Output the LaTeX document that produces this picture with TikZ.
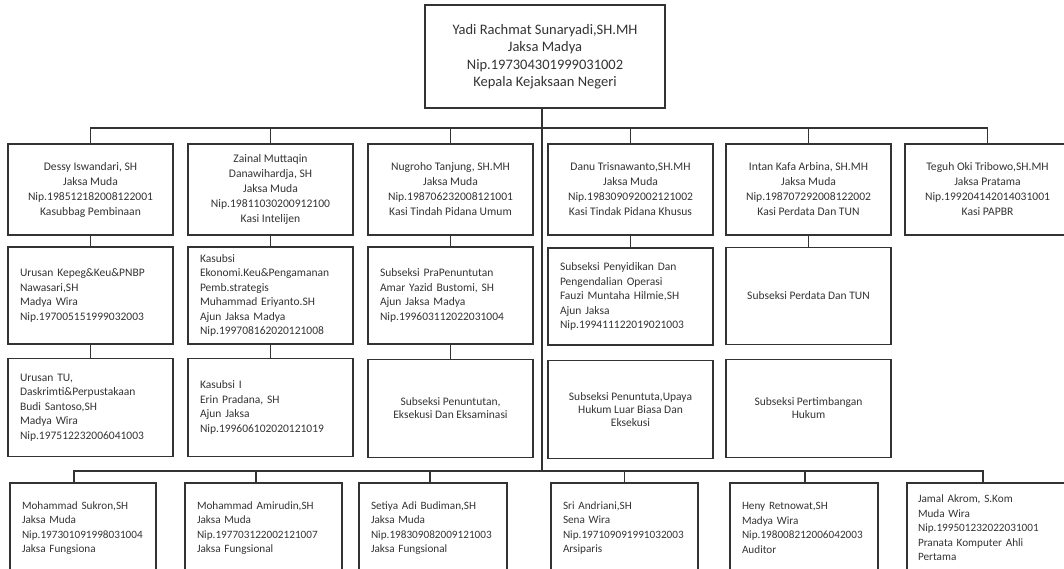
\documentclass[tikz,border=0pt]{standalone}
\usepackage{fontspec}
\setmainfont{Carlito}

\tikzset{
  kotak/.style={draw=black!80, line width=1.2pt, text=black!80, inner sep=0pt},
  kepala/.style={kotak, minimum width=240pt, minimum height=103pt, align=center, font=\fontsize{14.5}{17.5}\selectfont},
  kasi/.style={kotak, minimum width=165pt, minimum height=91pt, align=center, font=\fontsize{11.6}{15}\selectfont},
  subkiri/.style={kotak, text width=141pt, inner xsep=12pt, minimum height=97pt, align=left, font=\fontsize{11.5}{14.5}\selectfont},
  subtengah/.style={kotak, minimum width=165pt, minimum height=97pt, align=center, font=\fontsize{11.5}{13}\selectfont},
  fungsional/.style={kotak, inner xsep=12pt, minimum height=90pt, align=left, font=\fontsize{11.2}{14.5}\selectfont},
  garis/.style={draw=black!80, line width=1.2pt}
}

\begin{document}
\begin{tikzpicture}[x=1pt,y=-1pt]
\useasboundingbox (0,0) rectangle (1064,568);
\clip (0,0) rectangle (1064,568);

\node[kepala] (kajari) at (545,56.5) {Yadi Rachmat Sunaryadi,SH.MH\\Jaksa Madya\\Nip.197304301999031002\\Kepala Kejaksaan Negeri};

% kasi / kasubbag
\node[kasi] (k1) at (90.5,189.5) {Dessy Iswandari, SH\\Jaksa Muda\\Nip.198512182008122001\\Kasubbag Pembinaan};
\node[kasi] (k2) at (270.5,189.5) {Zainal Muttaqin\\Danawihardja, SH\\Jaksa Muda\\Nip.19811030200912100\\Kasi Intelijen};
\node[kasi] (k3) at (450.5,189.5) {Nugroho Tanjung, SH.MH\\Jaksa Muda\\Nip.198706232008121001\\Kasi Tindah Pidana Umum};
\node[kasi] (k4) at (630.5,189.5) {Danu Trisnawanto,SH.MH\\Jaksa Muda\\Nip.198309092002121002\\Kasi Tindak Pidana Khusus};
\node[kasi] (k5) at (808.5,189.5) {Intan Kafa Arbina, SH.MH\\Jaksa Muda\\Nip.198707292008122002\\Kasi Perdata Dan TUN};
\node[kasi] (k6) at (987.5,189.5) {Teguh Oki Tribowo,SH.MH\\Jaksa Pratama\\Nip.199204142014031001\\Kasi PAPBR};

% subseksi
\node[subkiri] (s1) at (90.5,295.5) {Urusan Kepeg\&Keu\&PNBP\\Nawasari,SH\\Madya Wira\\Nip.197005151999032003};
\node[subkiri] (s2) at (270.5,295.5) {Kasubsi\\Ekonomi.Keu\&Pengamanan\\Pemb.strategis\\Muhammad Eriyanto.SH\\Ajun Jaksa Madya\\Nip.199708162020121008};
\node[subkiri] (s3) at (450.5,295.5) {Subseksi PraPenuntutan\\Amar Yazid Bustomi, SH\\Ajun Jaksa Madya\\Nip.199603112022031004};
\node[subkiri] (s4) at (630.5,296.5) {Subseksi Penyidikan Dan\\Pengendalian Operasi\\Fauzi Muntaha Hilmie,SH\\Ajun Jaksa\\Nip.199411122019021003};
\node[subtengah] (s5) at (808.5,296) {Subseksi Perdata Dan TUN};

\node[subkiri, minimum height=98pt] (t1) at (90.5,407.5) {Urusan TU,\\Daskrimti\&Perpustakaan\\Budi Santoso,SH\\Madya Wira\\Nip.197512232006041003};
\node[subkiri, minimum height=98pt] (t2) at (270.5,407.5) {Kasubsi I\\Erin Pradana, SH\\Ajun Jaksa\\Nip.199606102020121019};
\node[subtengah, minimum height=98pt] (t3) at (450.5,408.5) {Subseksi Penuntutan,\\Eksekusi Dan Eksaminasi};
\node[subtengah, minimum height=98pt] (t4) at (630.5,409.5) {Subseksi Penuntuta,Upaya\\Hukum Luar Biasa Dan\\Eksekusi};
\node[subtengah, minimum height=98pt] (t5) at (808.5,408.5) {Subseksi Pertimbangan\\Hukum};

% fungsional
\node[fungsional, text width=122pt] (f1) at (83,528) {Mohammad Sukron,SH\\Jaksa Muda\\Nip.197301091998031004\\Jaksa Fungsiona};
\node[fungsional, text width=133pt] (f2) at (263.5,528) {Mohammad Amirudin,SH\\Jaksa Muda\\Nip.197703122002121007\\Jaksa Fungsional};
\node[fungsional, text width=124pt] (f3) at (433,528) {Setiya Adi Budiman,SH\\Jaksa Muda\\Nip.198309082009121003\\Jaksa Fungsional};
\node[fungsional, text width=123pt] (f4) at (624.5,528) {Sri Andriani,SH\\Sena Wira\\Nip.197109091991032003\\Arsiparis};
\node[fungsional, text width=124pt] (f5) at (804,528) {Heny Retnowat,SH\\Madya Wira\\Nip.198008212006042003\\Auditor};
\node[fungsional, text width=138pt, inner xsep=11pt] (f6) at (987,528) {Jamal Akrom, S.Kom\\Muda Wira\\Nip.199501232022031001\\Pranata Komputer Ahli\\Pertama};

\coordinate (atas) at (542,128);
\coordinate (bawah) at (542,471);

\draw[garis] (kajari.south -| atas) -- (bawah);
\foreach \k in {k1,k2,k3,k4,k5,k6}
  \draw[garis] (\k.north) |- (atas);
\foreach \a/\b in {k1/s1,k2/s2,k3/s3,k4/s4,k5/s5,s1/t1,s2/t2,s3/t3}
  \draw[garis] (\a.south) -- (\b.north);
\foreach \f/\dx in {f1/-9,f2/-7.5,f3/-3,f4/0,f5/1,f6/-4}
  \draw[garis] ([xshift=\dx pt]\f.north) |- (bawah);

\end{tikzpicture}
\end{document}
